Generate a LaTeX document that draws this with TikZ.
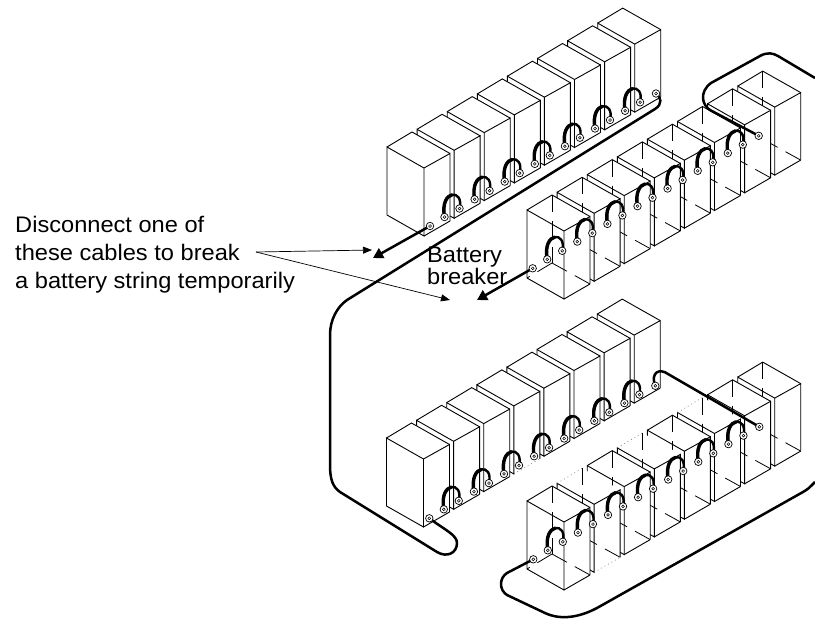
\documentclass[tikz,border=0pt]{standalone}
\usepackage{fontspec}
\setmainfont[FakeStretch=1.05]{Liberation Sans}
\usetikzlibrary{arrows.meta}
\pgfdeclarelayer{batlayer}
\pgfdeclarelayer{cablayer}
\pgfsetlayers{batlayer,cablayer,main}
\tikzset{
  batline/.style={line width=0.9pt,line join=miter,black},
  hidden/.style={line width=0.8pt,black,dash pattern=on 17pt off 9pt},
  faint/.style={line width=0.5pt,black!55,dash pattern=on 1pt off 3pt},
  term/.style={circle,draw=black,fill=white,line width=0.7pt,minimum size=7.5pt,inner sep=0pt},
  cablethin/.style={line width=2.4pt,black},
  cablethick/.style={line width=3.4pt,black,line cap=round},
  wire/.style={line width=2.5pt,black,line join=round},
  thickarrow/.style={line width=2.5pt,black,-{Triangle[length=10pt,width=11pt]}},
  leader/.style={line width=0.7pt,black,-{Triangle[length=9pt,width=7pt]}},
  caption/.style={inner sep=0pt,align=left,anchor=north west},
}
\newcommand{\bat}[3]{%
 \begin{scope}[shift={(#1,#2)}]
  \fill[white] (-37,-21)--(-12,-36)--(26,-14.5)--(26,53)--(0,68)--(-37,47)--cycle;
  \draw[batline] (-37,47)--(-37,-21)--(0,0)--(0,68)--(-37,47);
  \draw[batline] (0,0)--(26,-14.5)--(26,53);
  \ifcase#3\relax
    \draw[batline] (-37,-21)--(-12,-36)--(26,-14.5);
    \draw[batline] (0,68)--(26,53);
  \or
    \draw[batline] (-37,-21)--(-12,-36)--(26,-14.5);
    \draw[batline] (0,68)--(26,53);
    \draw[hidden] (-12,-36)--(-12,32);
    \draw[hidden] (-12,32)--(26,53);
    \draw[hidden] (-12,32)--(-37,47);
  \or
    \draw[faint] (-37,-21)--(-12,-36);
    \draw[batline] (0,68)--(26,53);
    \draw[hidden] (-12,-36)--(-12,32);
    \draw[hidden] (-12,32)--(26,53);
    \draw[hidden] (-12,32)--(-37,47);
  \or
    \draw[faint] (-37,-21)--(-12,-36);
    \draw[faint] (0,68)--(26,53);
    \draw[hidden] (-12,-36)--(-12,32);
    \draw[hidden] (-12,32)--(26,53);
    \draw[hidden] (-12,32)--(-37,47);
  \or
    \draw[batline] (-37,-21)--(-12,-36)--(26,-14.5);
    \draw[faint] (0,68)--(26,53);
  \fi
 \end{scope}}
\newcommand{\termnode}[3]{%
  \node[term] (#1) at (#2,#3) {};
  \draw[black,line width=0.5pt] (#1.center) circle (1.4pt);}
\begin{document}
\begin{tikzpicture}[x=1pt,y=-1pt]
\useasboundingbox (0,0) rectangle (815,619);
% batteries
\begin{pgfonlayer}{batlayer}
  \foreach \i in {7,...,0}{
    \pgfmathsetmacro\cx{424+30.1*\i}
    \pgfmathsetmacro\cy{168-17.7*\i}
    \bat{\cx}{\cy}{0}
  }
  \foreach \i/\k in {7/0,6/0,5/0,4/0,3/4,2/0,1/0,0/0}{
    \pgfmathsetmacro\cx{423.5+30.1*\i}
    \pgfmathsetmacro\cy{459-17.7*\i}
    \bat{\cx}{\cy}{\k}
  }
  \foreach \i in {7,...,0}{
    \pgfmathsetmacro\cx{564+30.1*\i}
    \pgfmathsetmacro\cy{231-17.7*\i}
    \bat{\cx}{\cy}{1}
  }
  \foreach \i/\k in {7/1,6/1,5/2,4/1,3/2,2/1,1/3,0/1}{
    \pgfmathsetmacro\cx{564+30.1*\i}
    \pgfmathsetmacro\cy{522-17.7*\i}
    \bat{\cx}{\cy}{\k}
  }
\end{pgfonlayer}
% terminals and jumper cables
\foreach \r/\tx/\ty in {a/430/226,b/532.7/268.3,c/429.3/518.3,d/533.3/559.3}{
  \pgfmathsetmacro\ex{\tx+226}
  \pgfmathsetmacro\ey{\ty-132.5}
  \termnode{S\r}{\tx}{\ty}
  \termnode{E\r}{\ex}{\ey}
  \foreach \i in {0,...,6}{
    \pgfmathsetmacro\lx{\tx+14.5+30.1*\i}
    \pgfmathsetmacro\ly{\ty-9-17.7*\i}
    \pgfmathsetmacro\rx{\lx+15}
    \pgfmathsetmacro\ry{\ly-8.5}
    \termnode{L\r\i}{\lx}{\ly}
    \termnode{R\r\i}{\rx}{\ry}
    \begin{pgfonlayer}{cablayer}
      \draw[cablethin] (L\r\i.center) .. controls +(-5,-28) and +(5,-20) .. (R\r\i.center);
      \draw[cablethick] (L\r\i.center) .. controls +(-2.5,-14) and +(-5,1.1) .. ++(7.5,-22.2);
    \end{pgfonlayer}
  }
}
% free ends
\coordinate (tipA) at (373,258);
\coordinate (tipB) at (477,300);
\coordinate (exitTop) at (815,78);
\coordinate (exitBot) at (815,482);
\coordinate (leadStart) at (256,252);
\coordinate (leadA) at (372,250);
\coordinate (leadB) at (450,300);
% string wiring
\begin{pgfonlayer}{cablayer}
  \draw[thickarrow] (Sa.center) -- (tipA);
  \draw[thickarrow] (Sb.center) -- (tipB);
  \draw[wire] (Ea.center) .. controls (661,97) and (663,104) .. (655,109)
     -- (347,300) .. controls (337,307) and (330,320) .. (330,335)
     -- (330,465) .. controls (330,480) and (333,487) .. (340,492)
     -- (437,552) .. controls (447,558) and (457,553) .. (457,543)
     .. controls (457,535) and (445,530) .. (Sc.center);
  \draw[wire] (Eb.center) -- (710,110) .. controls (702,105) and (699,92) .. (711,83)
     -- (760,56) .. controls (767,52) and (773,53) .. (778,56) -- (exitTop);
  \draw[wire] (Ec.center) .. controls (650,372) and (660,368) .. (668,374) -- (Ed.center);
  \draw[wire] (Sd.center) -- (507,573) .. controls (499,578) and (499,590) .. (507,595)
     -- (545,613) .. controls (560,620) and (578,618) .. (597,608)
     -- (803,492) .. controls (808,489) .. (exitBot);
\end{pgfonlayer}
% labels
\node[caption,font=\fontsize{22.5}{28}\selectfont] (note) at (15,216)
  {Disconnect one of\\these cables to break\\a battery string temporarily};
\node[caption,font=\fontsize{22.5}{20.5}\selectfont] (brk) at (427,247) {Battery\\breaker};
\draw[leader] (leadStart) -- (leadA);
\draw[leader] (leadStart) -- (leadB);
\end{tikzpicture}
\end{document}
